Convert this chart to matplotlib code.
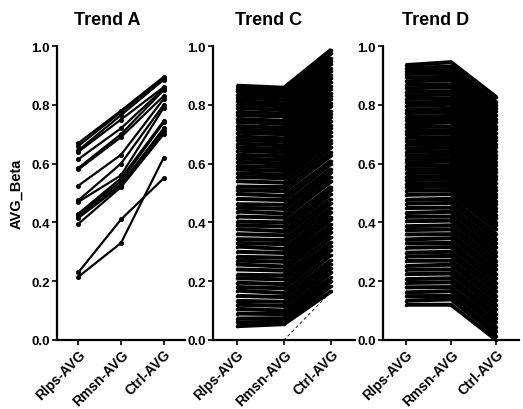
import matplotlib
matplotlib.use("Agg")
import matplotlib.pyplot as plt

plt.rcParams['font.family'] = ['Liberation Sans', 'DejaVu Sans']
plt.rcParams['font.weight'] = 'bold'

categories = ["Rlps-AVG", "Rmsn-AVG", "Ctrl-AVG"]
titles = ["Trend A", "Trend C", "Trend D"]
y_ticks = [0.0, 0.2, 0.4, 0.6, 0.8, 1.0]
y_label = "AVG_Beta"

# ---- Trend A (each line: Rlps, Rmsn, Ctrl) ----
a_rlps = [0.67, 0.66, 0.645, 0.64, 0.615, 0.585, 0.58, 0.525, 0.475, 0.47,
          0.43, 0.425, 0.42, 0.415, 0.395, 0.23, 0.215]
a_rmsn = [0.78, 0.775, 0.765, 0.75, 0.72, 0.70, 0.69, 0.63, 0.60, 0.56,
          0.55, 0.54, 0.53, 0.525, 0.52, 0.41, 0.33]
a_ctrl = [0.895, 0.89, 0.885, 0.86, 0.855, 0.85, 0.83, 0.82, 0.80, 0.79,
          0.745, 0.74, 0.72, 0.71, 0.70, 0.55, 0.62]

# ---- Trend C ----
c_rlps = [0.865, 0.855, 0.846, 0.835, 0.823, 0.812, 0.80, 0.79, 0.776, 0.765,
          0.752, 0.742, 0.728, 0.716, 0.705, 0.692, 0.68, 0.668, 0.655, 0.644,
          0.63, 0.618, 0.606, 0.592, 0.58, 0.567, 0.555,
          0.54, 0.522, 0.51, 0.497, 0.48, 0.462, 0.45, 0.437, 0.42, 0.403,
          0.39, 0.377, 0.36, 0.343, 0.33, 0.318, 0.30, 0.283, 0.27, 0.257,
          0.24, 0.222, 0.21, 0.195, 0.18, 0.168, 0.15, 0.133, 0.12, 0.106,
          0.09, 0.073, 0.06, 0.047]
c_rmsn = [0.858, 0.85, 0.838, 0.826, 0.818, 0.805, 0.795, 0.782, 0.77, 0.76,
          0.745, 0.735, 0.722, 0.71, 0.70, 0.686, 0.675, 0.662, 0.65, 0.638,
          0.625, 0.612, 0.60, 0.588, 0.575, 0.562, 0.55,
          0.535, 0.52, 0.506, 0.49, 0.476, 0.46, 0.446, 0.43, 0.416, 0.40,
          0.386, 0.37, 0.356, 0.34, 0.326, 0.31, 0.296, 0.28, 0.266, 0.25,
          0.236, 0.22, 0.206, 0.19, 0.176, 0.16, 0.146, 0.13, 0.116, 0.10,
          0.088, 0.074, 0.062, 0.054]
c_ctrl = [0.988, 0.975, 0.96, 0.95, 0.94, 0.925, 0.915, 0.90, 0.89, 0.878,
          0.865, 0.855, 0.84, 0.83, 0.82, 0.805, 0.795, 0.78, 0.77, 0.758,
          0.745, 0.73, 0.72, 0.708, 0.695, 0.68, 0.67,
          0.655, 0.64, 0.628, 0.61, 0.60, 0.583, 0.57, 0.556, 0.54, 0.522,
          0.51, 0.497, 0.48, 0.466, 0.45, 0.435, 0.42, 0.41, 0.393, 0.38,
          0.366, 0.35, 0.333, 0.32, 0.306, 0.29, 0.272, 0.26, 0.245, 0.23,
          0.213, 0.20, 0.184, 0.166]
c_extra = [0.0, 0.0, 0.165]

# ---- Trend D ----
d_rlps = [0.935, 0.925, 0.915, 0.905, 0.893, 0.88, 0.868, 0.856, 0.844, 0.832,
          0.82, 0.808, 0.796, 0.784, 0.772, 0.76, 0.748, 0.736, 0.724, 0.712,
          0.70, 0.688, 0.676, 0.664, 0.652, 0.64, 0.628, 0.616, 0.604, 0.592,
          0.58, 0.568, 0.556, 0.544, 0.532, 0.52, 0.508,
          0.494, 0.477, 0.464, 0.449, 0.432, 0.419, 0.404, 0.387, 0.374, 0.359,
          0.342, 0.329, 0.314, 0.297, 0.284, 0.269, 0.252, 0.239, 0.224, 0.207,
          0.194, 0.179, 0.162, 0.149, 0.134, 0.12]
d_rmsn = [0.945, 0.93, 0.918, 0.908, 0.895, 0.884, 0.87, 0.86, 0.846, 0.835,
          0.822, 0.81, 0.80, 0.786, 0.775, 0.762, 0.75, 0.74, 0.726, 0.714,
          0.703, 0.69, 0.678, 0.667, 0.654, 0.642, 0.63, 0.618, 0.607, 0.594,
          0.582, 0.57, 0.558, 0.546, 0.534, 0.522, 0.51,
          0.496, 0.48, 0.466, 0.45, 0.436, 0.42, 0.406, 0.39, 0.376, 0.36,
          0.346, 0.33, 0.316, 0.30, 0.286, 0.27, 0.256, 0.24, 0.226, 0.21,
          0.196, 0.18, 0.166, 0.15, 0.138, 0.12]
d_ctrl = [0.826, 0.81, 0.80, 0.79, 0.778, 0.765, 0.752, 0.74, 0.728, 0.716,
          0.704, 0.69, 0.68, 0.668, 0.655, 0.642, 0.63, 0.62, 0.606, 0.594,
          0.582, 0.57, 0.558, 0.546, 0.534, 0.522, 0.51, 0.498, 0.486, 0.474,
          0.462, 0.45, 0.438, 0.426, 0.414, 0.402, 0.39,
          0.376, 0.36, 0.345, 0.33, 0.315, 0.30, 0.285, 0.27, 0.255, 0.24,
          0.225, 0.21, 0.195, 0.18, 0.165, 0.15, 0.135, 0.12, 0.105, 0.09,
          0.075, 0.06, 0.045, 0.03, 0.015, 0.0]

fig = plt.figure(figsize=(5.23, 4.10), dpi=100)
bottom = 1 - 341 / 410
top = 1 - 47 / 410
h = top - bottom
boxes = [(57, 185), (213, 355), (383, 519)]
axes = [fig.add_axes([l / 523, bottom, (r - l) / 523, h]) for l, r in boxes]

x = [0, 1, 2]
ax = axes[0]
for a, b, c in zip(a_rlps, a_rmsn, a_ctrl):
    ax.plot(x, [a, b, c], color='black', lw=1.6, marker='o', ms=2.6,
            solid_joinstyle='round')

ax = axes[1]
for a, b, c in zip(c_rlps, c_rmsn, c_ctrl):
    ax.plot(x, [a, b, c], color='black', lw=2.9, marker='o', ms=1.5,
            solid_capstyle='butt')
ax.plot(x, c_extra, color='black', lw=0.6, ls=(0, (4, 3)))

ax = axes[2]
for a, b, c in zip(d_rlps, d_rmsn, d_ctrl):
    ax.plot(x, [a, b, c], color='black', lw=2.9, marker='o', ms=1.5,
            solid_capstyle='butt')

for ax, t in zip(axes, titles):
    ax.set_xlim(-0.5, 2.5)
    ax.set_ylim(0, 1.0)
    ax.set_xticks(x)
    ax.set_xticklabels(categories, rotation=45, ha='right',
                       rotation_mode='anchor', fontsize=10, fontweight='bold')
    ax.set_yticks(y_ticks)
    ax.set_yticklabels([f"{v:.1f}" for v in y_ticks], fontsize=9.5,
                       fontweight='bold')
    for s in ['top', 'right']:
        ax.spines[s].set_visible(False)
    for s in ['left', 'bottom']:
        ax.spines[s].set_linewidth(1.6)
    ax.tick_params(axis='both', width=1.2, length=3.5, pad=1.5)
    ax.set_title(t, fontsize=13, fontweight='bold', x=0.39, pad=16)
    for ln in ax.lines:
        ln.set_clip_on(False)

axes[0].set_ylabel(y_label, fontsize=10.5, fontweight='bold', labelpad=6)

fig.savefig("out.png", dpi=100)
